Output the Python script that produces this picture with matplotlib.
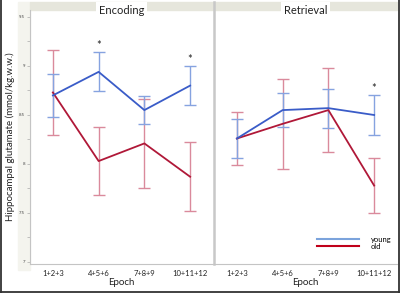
"""
Hippocampal glutamate per epoch — encoding vs retrieval, young vs old
"""
import matplotlib
matplotlib.use('Agg')
import matplotlib.pyplot as plt
from matplotlib.lines import Line2D
from matplotlib.patches import Rectangle
from matplotlib.ticker import MultipleLocator

plt.rcParams['font.family'] = ['Lato', 'DejaVu Sans']

epochs = ['1+2+3', '4+5+6', '7+8+9', '10+11+12']

# encoding
enc_young = [8.70, 8.94, 8.55, 8.80]
enc_young_err = [0.22, 0.20, 0.14, 0.20]
enc_old = [8.73, 8.03, 8.21, 7.87]
enc_old_err = [0.43, 0.35, 0.45, 0.35]
enc_star = [1, 3]

# retrieval
ret_young = [8.26, 8.55, 8.57, 8.50]
ret_young_err = [0.20, 0.17, 0.20, 0.20]
ret_old = [8.26, 8.41, 8.55, 7.78]
ret_old_err = [0.27, 0.46, 0.43, 0.28]
ret_star = [3]

BLUE = '#3a5cc8'
BLUE_ERR = '#86a3e0'
RED = '#b01838'
RED_ERR = '#da8a9c'
W, H = 400, 293

fig = plt.figure(figsize=(4.0, 2.93), dpi=100)


def fx(px):
    return px / W


def fy(py):
    return 1 - py / H


# left beige strip + header strip (behind the axes)
fig.patches.append(Rectangle((fx(18), fy(270)), fx(12), fy(2) - fy(270),
                             transform=fig.transFigure, color='#f4f4ee', zorder=-5))
fig.patches.append(Rectangle((fx(30), fy(10)), fx(367), fy(2) - fy(10),
                             transform=fig.transFigure, color='#e6e6dc', zorder=-5))

panels = [
    ('Encoding', 30, enc_young, enc_young_err, enc_old, enc_old_err, enc_star),
    ('Retrieval', 214, ret_young, ret_young_err, ret_old, ret_old_err, ret_star),
]
x = list(range(len(epochs)))

for i, (title, left, yg, yg_e, od, od_e, stars) in enumerate(panels):
    ax = fig.add_axes([fx(left), fy(264), fx(183), fy(10) - fy(264)])
    ax.set_zorder(1)
    ax.patch.set_alpha(0)
    ax.set_xlim(-0.5, 3.5)
    ax.set_ylim(7 - 2 / 98, 9.5 + 7 / 98)

    ax.errorbar(x, od, yerr=od_e, fmt='none', ecolor=RED_ERR, elinewidth=1.0,
                capsize=4, capthick=1.0, zorder=2)
    ax.errorbar(x, yg, yerr=yg_e, fmt='none', ecolor=BLUE_ERR, elinewidth=1.0,
                capsize=4, capthick=1.0, zorder=2)
    ax.plot(x, od, color=RED, lw=1.3, zorder=3)
    ax.plot(x, yg, color=BLUE, lw=1.3, zorder=4)

    for s in stars:
        top = max(yg[s] + yg_e[s], od[s] + od_e[s])
        ax.text(s, top + 0.01, '*', ha='center', va='bottom', fontsize=8, color='#222222')

    ax.set_xticks(x)
    ax.set_xticklabels(epochs, fontsize=5.5, color='#222222')
    ax.tick_params(axis='x', length=0, pad=4)
    ax.set_xlabel('Epoch', fontsize=7, labelpad=1, color='#222222')

    for sp in ('top', 'right'):
        ax.spines[sp].set_visible(False)
    ax.spines['bottom'].set_color('#c4c4c4')
    ax.spines['bottom'].set_linewidth(0.8)

    if i == 0:
        ax.spines['left'].set_color('#c4c4c4')
        ax.spines['left'].set_linewidth(0.8)
        ax.yaxis.set_minor_locator(MultipleLocator(0.25))
        ax.set_yticks([7, 7.5, 8, 8.5, 9, 9.5])
        ax.set_yticklabels(['7', '7.5', '8', '8.5', '9', '9.5'], fontsize=3.2, color='#444444')
        ax.tick_params(axis='y', which='both', length=2.5, width=0.5, color='#aaaaaa', pad=1)
        ax.set_ylabel('Hippocampal glutamate (mmol/kg.w.w.)', fontsize=7, color='#222222')
        ax.yaxis.set_label_coords(-0.082, 0.5)
    else:
        ax.spines['left'].set_color('#c8c8c8')
        ax.spines['left'].set_linewidth(1.8)
        ax.spines['left'].set_bounds(7 - 2 / 98, 9.5 + 15 / 98)
        ax.spines['left'].set_clip_on(False)
        ax.set_yticks([])
        handles = [Line2D([], [], color='#7ba3dc', lw=1.5),
                   Line2D([], [], color='#c0001a', lw=1.5)]
        ax.legend(handles, ['young', 'old'], loc='lower right', bbox_to_anchor=(0.99, 0.04),
                  frameon=False, fontsize=5.5, handlelength=5.5, handletextpad=1.5,
                  labelspacing=0.05, borderpad=0)

    ax.text(0.5, 1.0, title, transform=ax.transAxes, ha='center', va='center', fontsize=8,
            color='#222222', zorder=10,
            bbox=dict(boxstyle='square,pad=0.25', fc='white', ec='none'))

# outer frame (left, right, bottom)
for xs, ys in [([fx(0.8), fx(0.8)], [0, 1]), ([fx(398.6), fx(398.6)], [0, 1]),
               ([0, 1], [fy(291.6), fy(291.6)])]:
    fig.lines.append(Line2D(xs, ys, transform=fig.transFigure, color='#333333', lw=1.3))

fig.savefig('out.png', dpi=100)
